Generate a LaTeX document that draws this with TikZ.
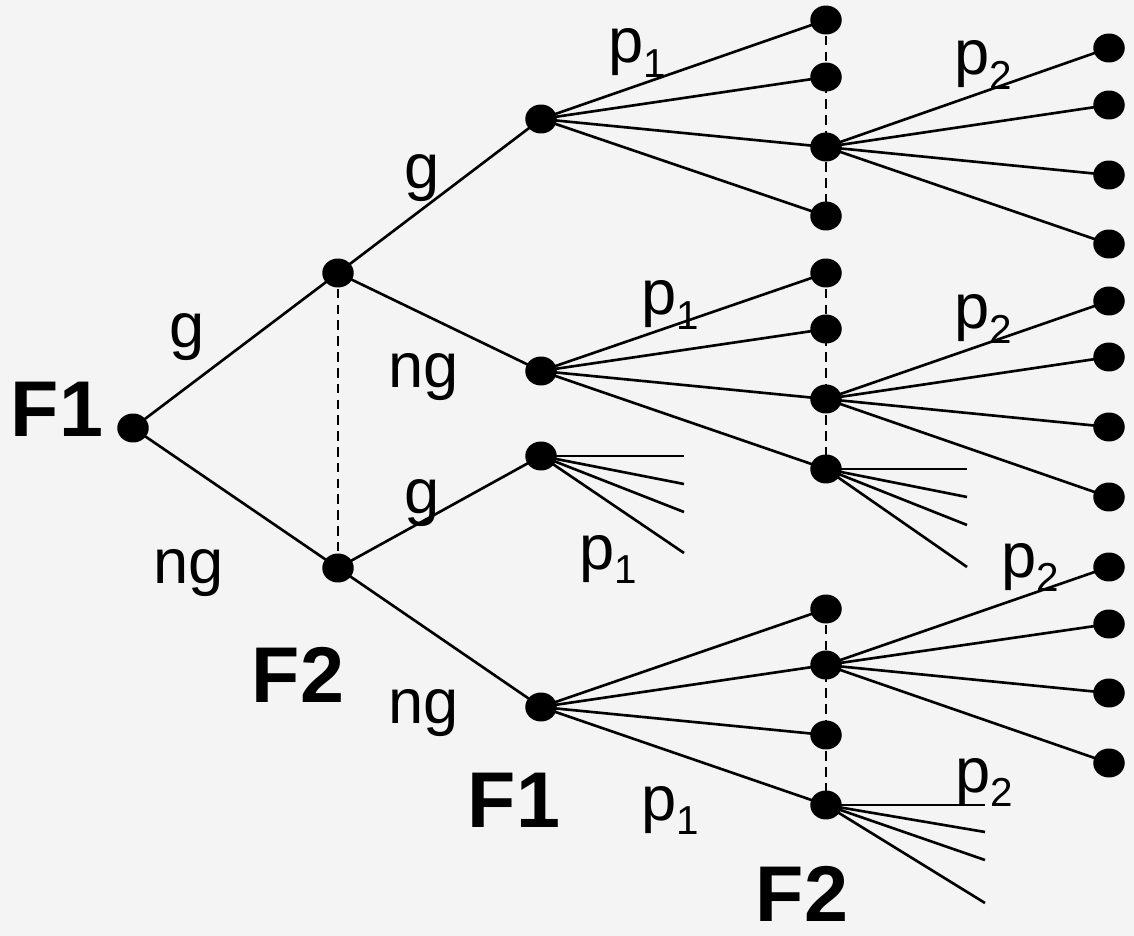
\documentclass[tikz,border=0pt]{standalone}
\usepackage{fontspec}
\setmainfont{Liberation Sans}
\usetikzlibrary{shapes.geometric,backgrounds}
\definecolor{bgc}{HTML}{F4F4F4}
\newcommand{\psub}[1]{p\raisebox{-0.3cm}{\fontsize{23}{23}\selectfont #1}}
\begin{document}
\begin{tikzpicture}[x=0.02cm,y=-0.02cm,
  dot/.style={ellipse,fill=black,inner sep=0pt,minimum width=0.63cm,minimum height=0.58cm},
  edge/.style={line width=1.5pt},
  info/.style={line width=1.3pt,dash pattern=on 5.5pt off 3.5pt},
  lbl/.style={inner sep=0pt,anchor=base,font=\fontsize{36}{40}\selectfont},
  pl/.style={inner sep=0pt,anchor=base west,font=\fontsize{36}{40}\selectfont},
  pname/.style={inner sep=0pt,anchor=base,font=\fontsize{45}{50}\selectfont\bfseries}]
\useasboundingbox (0,0) rectangle (1134,936);
% nodes
\node[dot] (R) at (133,428) {};
\node[dot] (A) at (338,273) {};
\node[dot] (B) at (338,568) {};
\node[dot] (C) at (541,119) {};
\node[dot] (D) at (541,371) {};
\node[dot] (E) at (541,456) {};
\node[dot] (G) at (541,707) {};
% C branch
\node[dot] (c1) at (826,20) {};
\node[dot] (c2) at (826,77) {};
\node[dot] (c3) at (826,147) {};
\node[dot] (c4) at (826,216) {};
\node[dot] (cl1) at (1109,48) {};
\node[dot] (cl2) at (1109,105) {};
\node[dot] (cl3) at (1109,175) {};
\node[dot] (cl4) at (1109,244) {};
% D branch
\node[dot] (d1) at (826,273) {};
\node[dot] (d2) at (826,329) {};
\node[dot] (d3) at (826,399) {};
\node[dot] (d4) at (826,469) {};
\node[dot] (dl1) at (1109,301) {};
\node[dot] (dl2) at (1109,357) {};
\node[dot] (dl3) at (1109,427) {};
\node[dot] (dl4) at (1109,497) {};
\coordinate (df1) at (967,469);
\coordinate (df2) at (967,497);
\coordinate (df3) at (967,525);
\coordinate (df4) at (967,567);
% E branch
\coordinate (ef1) at (684,456);
\coordinate (ef2) at (684,484);
\coordinate (ef3) at (684,512);
\coordinate (ef4) at (684,553);
% G branch
\node[dot] (g1) at (826,609) {};
\node[dot] (g2) at (826,665) {};
\node[dot] (g3) at (826,735) {};
\node[dot] (g4) at (826,805) {};
\node[dot] (gl1) at (1109,567) {};
\node[dot] (gl2) at (1109,624) {};
\node[dot] (gl3) at (1109,693) {};
\node[dot] (gl4) at (1109,763) {};
\coordinate (gf1) at (985,805);
\coordinate (gf2) at (985,832);
\coordinate (gf3) at (985,860);
\coordinate (gf4) at (985,903);
% labels
\node[pname] (nF1a) at (57,436) {F1};
\node[pname] (nF2a) at (298,702) {F2};
\node[pname] (nF1b) at (514,827) {F1};
\node[pname] (nF2b) at (802,921) {F2};
\node[lbl] (lg1) at (187,347) {g};
\node[lbl] (lng1) at (189,583) {ng};
\node[lbl] (lg2) at (422,189) {g};
\node[lbl] (lng2) at (424,387) {ng};
\node[lbl] (lg3) at (422,513) {g};
\node[lbl] (lng3) at (424,723) {ng};
\node[pl] (p1a) at (608,63) {\psub{1}};
\node[pl] (p2a) at (954,75) {\psub{2}};
\node[pl] (p1b) at (641,315) {\psub{1}};
\node[pl] (p2b) at (954,329) {\psub{2}};
\node[pl] (p1c) at (579,569) {\psub{1}};
\node[pl] (p2c) at (1001,577) {\psub{2}};
\node[pl] (p1d) at (641,820) {\psub{1}};
\node[pl] (p2d) at (955,792) {\psub{2}};
\begin{scope}[on background layer]
\fill[bgc] (0,0) rectangle (1134,936);
\draw[edge] (R.center) -- (A.center);
\draw[edge] (R.center) -- (B.center);
\draw[edge] (A.center) -- (C.center);
\draw[edge] (A.center) -- (D.center);
\draw[edge] (B.center) -- (E.center);
\draw[edge] (B.center) -- (G.center);
\foreach \t in {c1,c2,c3,c4} \draw[edge] (C.center) -- (\t.center);
\foreach \t in {cl1,cl2,cl3,cl4} \draw[edge] (c3.center) -- (\t.center);
\foreach \t in {d1,d2,d3,d4} \draw[edge] (D.center) -- (\t.center);
\foreach \t in {dl1,dl2,dl3,dl4} \draw[edge] (d3.center) -- (\t.center);
\foreach \t in {df1,df2,df3,df4} \draw[edge] (d4.center) -- (\t);
\foreach \t in {ef1,ef2,ef3,ef4} \draw[edge] (E.center) -- (\t);
\foreach \t in {g1,g2,g3,g4} \draw[edge] (G.center) -- (\t.center);
\foreach \t in {gl1,gl2,gl3,gl4} \draw[edge] (g2.center) -- (\t.center);
\foreach \t in {gf1,gf2,gf3,gf4} \draw[edge] (g4.center) -- (\t);
\draw[info] (A.center) -- (B.center);
\draw[info] (c1.center) -- (c4.center);
\draw[info] (d1.center) -- (d4.center);
\draw[info] (g1.center) -- (g4.center);
\end{scope}
\end{tikzpicture}
\end{document}
